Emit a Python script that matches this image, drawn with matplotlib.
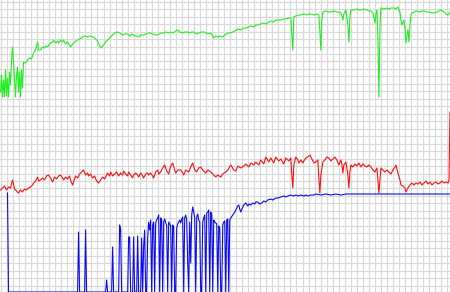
import numpy as np
import matplotlib
matplotlib.use("Agg")
import matplotlib.pyplot as plt

# sample index (one sample per pixel column) and level inside each band
green_x = [0, 1, 2, 3, 4, 5, 6, 7, 8, 9, 10, 11, 12, 13, 14, 15, 16, 17, 18, 19, 20, 21, 22, 23, 25, 27, 29, 31, 33, 35,
           37, 38, 40, 42, 44, 45, 47, 50, 52, 53, 55, 57, 58, 60, 62, 63, 65, 67, 69, 70, 72, 74, 77, 79, 82, 84, 87, 89,
           92, 94, 97, 99, 100, 102, 103, 105, 107, 109, 112, 114, 117, 119, 122, 124, 127, 129, 131, 133, 135, 138, 140,
           143, 145, 148, 150, 152, 155, 157, 160, 163, 165, 168, 170, 172, 175, 177, 179, 182, 184, 187, 189, 191, 193,
           196, 198, 201, 203, 206, 208, 210, 212, 213, 215, 217, 219, 222, 224, 227, 229, 232, 234, 237, 240, 243, 245,
           248, 250, 253, 255, 257, 260, 263, 265, 268, 270, 273, 275, 277, 280, 283, 285, 288, 290, 291, 292, 293, 295,
           298, 300, 303, 306, 308, 310, 313, 316, 318, 319, 320, 321, 322, 325, 328, 330, 333, 336, 338, 340, 341, 342,
           343, 345, 347, 348, 349, 350, 353, 356, 358, 360, 363, 366, 368, 370, 372, 373, 374, 375, 376, 377, 378, 379,
           380, 383, 386, 388, 390, 393, 395, 397, 399, 400, 401, 402, 403, 404, 405, 406, 407, 408, 409, 410, 411, 413,
           416, 419, 421, 423, 426, 428, 431, 433, 436, 438, 440, 443, 445, 447, 449]
green_px = [92, 75, 97, 80, 97, 70, 96, 78, 97, 72, 85, 60, 47, 62, 80, 97, 75, 67, 92, 72, 97, 70, 88, 62, 63, 60, 58,
            59, 53, 50, 42, 50, 50, 47, 48, 46, 47, 43, 42, 40, 43, 41, 43, 40, 42, 40, 44, 42, 45, 47, 44, 42, 40, 39,
            37, 36, 37, 36, 37, 38, 41, 46, 48, 46, 45, 42, 40, 38, 35, 33, 32, 33, 35, 34, 34, 36, 34, 35, 36, 37, 35,
            35, 34, 33, 33, 34, 35, 35, 33, 33, 32, 33, 32, 33, 31, 30, 32, 33, 32, 32, 33, 32, 32, 34, 33, 32, 32, 33,
            34, 33, 36, 38, 36, 37, 36, 37, 35, 33, 33, 32, 31, 29, 30, 28, 28, 27, 26, 27, 25, 25, 24, 23, 24, 22, 21,
            22, 20, 20, 20, 19, 19, 18, 18, 35, 50, 17, 16, 15, 15, 14, 15, 14, 14, 15, 14, 15, 30, 50, 20, 12, 11, 12,
            12, 11, 12, 12, 13, 16, 20, 14, 10, 25, 42, 18, 10, 10, 9, 10, 10, 9, 10, 11, 11, 13, 18, 23, 14, 10, 40, 97,
            30, 8, 9, 8, 9, 8, 8, 9, 7, 12, 20, 25, 22, 20, 28, 43, 35, 30, 42, 25, 15, 13, 12, 11, 12, 11, 11, 12, 12,
            13, 13, 12, 11, 10, 12, 14, 15, 12]

red_x = [0, 2, 4, 6, 8, 10, 11, 12, 13, 14, 16, 18, 20, 22, 24, 26, 28, 30, 32, 33, 35, 37, 38, 40, 42, 44, 46, 48, 50,
         52, 54, 56, 58, 60, 62, 63, 65, 67, 69, 70, 72, 74, 75, 77, 79, 81, 83, 85, 87, 88, 90, 92, 94, 96, 98, 100, 102,
         104, 106, 107, 109, 110, 112, 114, 116, 118, 120, 122, 123, 125, 127, 128, 130, 132, 133, 135, 137, 138, 140,
         142, 143, 145, 147, 148, 150, 152, 153, 155, 157, 158, 160, 162, 164, 166, 168, 170, 172, 174, 175, 177, 180,
         182, 183, 185, 188, 190, 192, 194, 196, 198, 200, 202, 205, 207, 210, 213, 215, 217, 220, 222, 225, 227, 230,
         233, 235, 237, 240, 243, 245, 248, 250, 253, 255, 258, 260, 263, 265, 268, 270, 273, 275, 278, 280, 283, 285,
         288, 290, 291, 292, 293, 295, 297, 298, 300, 302, 303, 305, 307, 309, 311, 313, 315, 317, 318, 319, 320, 322,
         324, 326, 328, 330, 332, 334, 336, 338, 340, 341, 342, 343, 345, 347, 348, 349, 350, 352, 354, 356, 358, 360,
         362, 364, 366, 368, 370, 372, 374, 376, 377, 378, 379, 380, 382, 384, 386, 388, 390, 392, 394, 395, 397, 399,
         400, 402, 404, 405, 407, 409, 411, 413, 415, 417, 419, 421, 423, 425, 427, 429, 431, 433, 435, 437, 439, 441,
         443, 445, 447, 448, 449]
red_px = [190, 188, 186, 190, 187, 188, 184, 180, 184, 189, 191, 193, 190, 192, 189, 190, 188, 187, 185, 183, 181, 177,
          181, 180, 178, 180, 176, 175, 178, 182, 177, 179, 176, 175, 178, 180, 177, 179, 176, 180, 185, 179, 176, 178,
          174, 172, 170, 175, 173, 176, 174, 178, 176, 181, 183, 180, 177, 179, 175, 173, 176, 172, 176, 174, 172, 176,
          173, 175, 171, 174, 176, 172, 175, 178, 175, 173, 175, 177, 173, 176, 178, 174, 173, 175, 173, 176, 178, 172,
          170, 174, 172, 168, 165, 171, 174, 166, 163, 170, 173, 170, 170, 173, 175, 170, 172, 167, 163, 170, 172, 168,
          167, 170, 173, 170, 172, 175, 177, 175, 177, 174, 172, 170, 165, 170, 171, 166, 168, 166, 164, 167, 163, 165,
          162, 165, 160, 164, 157, 162, 158, 163, 157, 161, 159, 164, 158, 161, 158, 175, 188, 165, 157, 160, 163, 160,
          163, 161, 158, 157, 155, 159, 163, 162, 160, 178, 193, 175, 162, 160, 157, 158, 161, 159, 157, 160, 165, 160,
          164, 173, 165, 162, 175, 188, 172, 165, 167, 164, 166, 163, 167, 164, 166, 167, 165, 167, 170, 172, 168, 180,
          193, 180, 168, 170, 172, 170, 172, 174, 170, 167, 165, 173, 180, 185, 186, 188, 192, 188, 185, 183, 185, 183,
          184, 182, 185, 183, 181, 184, 182, 185, 183, 182, 184, 183, 181, 183, 182, 183, 180, 112]

blue_x = [7, 8, 77, 78, 79, 84, 85, 86, 105, 106, 107, 111, 112, 113, 118, 119, 120, 121, 127, 128, 129, 130, 132, 133,
          134, 136, 137, 138, 140, 141, 142, 143, 144, 145, 146, 147, 148, 149, 150, 151, 152, 153, 154, 155, 156, 157,
          158, 159, 160, 161, 162, 163, 164, 165, 166, 167, 168, 169, 170, 171, 172, 173, 174, 175, 176, 177, 178, 179,
          180, 181, 182, 183, 184, 185, 186, 187, 188, 189, 190, 191, 192, 193, 194, 195, 196, 197, 198, 199, 200, 201,
          202, 203, 204, 205, 206, 207, 208, 209, 210, 211, 212, 213, 214, 215, 216, 217, 218, 219, 220, 221, 222, 223,
          224, 225, 226, 227, 228, 229, 230, 232, 234, 235, 237, 238, 239, 240, 242, 243, 245, 247, 248, 250, 252, 254,
          255, 257, 259, 261, 263, 265, 267, 270, 272, 275, 277, 280, 283, 285, 287, 290, 293, 295, 297, 300, 303, 305,
          307, 310, 313, 315, 320, 325, 330, 335, 340, 345, 360, 380, 400, 420, 449]
blue_px = [193, 292, 292, 232, 292, 292, 230, 292, 292, 280, 292, 292, 247, 292, 292, 225, 230, 292, 292, 237, 237, 292,
           292, 237, 292, 292, 236, 292, 292, 238, 292, 246, 230, 292, 292, 238, 222, 230, 220, 292, 225, 222, 292, 223,
           220, 218, 215, 292, 218, 220, 292, 222, 219, 223, 225, 292, 222, 224, 226, 292, 225, 227, 292, 292, 228, 224,
           222, 220, 223, 219, 217, 292, 218, 215, 220, 263, 292, 222, 263, 215, 207, 212, 218, 292, 217, 214, 220, 222,
           292, 292, 222, 218, 215, 292, 213, 212, 210, 292, 212, 215, 292, 220, 222, 223, 224, 292, 226, 228, 292, 292,
           225, 222, 221, 292, 220, 219, 292, 220, 218, 215, 212, 210, 206, 205, 209, 212, 207, 205, 203, 206, 204, 205,
           203, 204, 202, 202, 204, 203, 201, 202, 200, 199, 200, 198, 198, 197, 196, 197, 196, 195, 196, 195, 196, 195,
           196, 195, 196, 195, 195, 194, 195, 194, 195, 194, 195, 194, 194, 194, 194, 194, 194]

# bands: bottom edge in pixels from the top of the image
W, H = 450, 292
bands = [
    (green_x, green_px, 97, "#22ee22"),
    (red_x, red_px, 194, "#ff1010"),
    (blue_x, blue_px, 292, "#0a0af5"),
]

fig = plt.figure(figsize=(W / 100, H / 100), dpi=100)
fig.patch.set_facecolor("white")

# background grid over the whole picture
bg = fig.add_axes([0, 0, 1, 1])
bg.set_xlim(0, W)
bg.set_ylim(H, 0)
for gx in np.arange(1, W, 6.03):
    bg.axvline(gx, color="#d9d9d9", lw=0.85, zorder=0)
for gy in np.arange(1.7, H, 7.47):
    bg.axhline(gy, color="#d9d9d9", lw=0.85, zorder=0)
bg.axis("off")

band_h = 97
for xs, ys, bottom, color in bands:
    ax = fig.add_axes([0, (H - bottom) / H, 1, band_h / H])
    ax.patch.set_alpha(0)
    level = bottom - np.array(ys)
    ax.plot(xs, level, color=color, lw=0.8, clip_on=False)
    ax.set_xlim(-0.5, W - 1)
    ax.set_ylim(0, band_h)
    ax.axis("off")

fig.savefig("out.png", dpi=100)
